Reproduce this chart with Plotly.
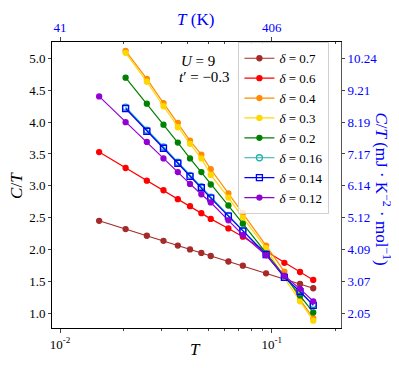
import plotly.graph_objects as go

# ---- data ----
T_ALL = [0.0153, 0.0204, 0.0257, 0.0308, 0.036, 0.0411, 0.0465, 0.0515,
         0.0624, 0.073, 0.094, 0.1147, 0.136, 0.157]

ct_d070 = [2.45, 2.32, 2.215, 2.135, 2.06, 2.0, 1.945, 1.897, 1.81, 1.745, 1.625, None, 1.46, 1.39]
ct_d060 = [3.53, 3.28, 3.08, 2.93, 2.79, 2.68, 2.57, 2.48, 2.33, 2.20, 1.97, 1.79, 1.645, 1.52]
ct_d040 = [None, 5.12, 4.68, 4.30, 3.99, 3.71, 3.49, 3.26, 2.88, 2.57, 2.06, 1.65, 1.21, 0.92]
ct_d030 = [None, 5.09, 4.635, 4.25, 3.92, 3.66, 3.43, 3.17, 2.815, 2.50, 2.02, 1.55, 1.185, 0.88]
ct_d020 = [None, 4.70, 4.29, 3.96, 3.68, 3.43, 3.215, 3.02, 2.69, 2.405, 1.94, 1.585, 1.277, 1.01]
ct_d016 = [None, 4.235, 3.875, 3.61, 3.37, 3.165, 2.985, 2.82, 2.535, 2.30, 1.925, 1.565, 1.33, 1.135]
ct_d014 = [None, 4.215, 3.857, 3.59, 3.354, 3.149, 2.969, 2.805, 2.523, 2.288, 1.918, 1.56, 1.338, 1.12]
ct_d012 = [4.405, 4.0, 3.69, 3.43, 3.215, 3.03, 2.867, 2.738, 2.457, 2.226, 1.908, 1.585, 1.38, 1.185]

series_labels = ["0.7", "0.6", "0.4", "0.3", "0.2", "0.16", "0.14", "0.12"]
series_values = [ct_d070, ct_d060, ct_d040, ct_d030, ct_d020, ct_d016, ct_d014, ct_d012]

left_ticks = [1.0, 1.5, 2.0, 2.5, 3.0, 3.5, 4.0, 4.5, 5.0]
right_tick_labels = ["2.05", "3.07", "4.09", "5.12", "6.14", "7.17", "8.19", "9.21", "10.24"]
bottom_ticks = [0.01, 0.1]
bottom_tick_labels = ["10<sup>-2</sup>", "10<sup>-1</sup>"]
top_tick_labels = ["41", "406"]
minor_ticks = [0.02, 0.03, 0.04, 0.05, 0.06, 0.07, 0.08, 0.09, 0.2]

# ---- styles ----
colors = ["brown", "red", "darkorange", "gold", "green", "lightseagreen", "blue", "darkviolet"]
symbols = ["circle", "circle", "circle", "circle", "circle", "circle-open", "square-open", "circle"]
msizes = [5, 5, 5, 5, 5, 6, 6, 5]
FONT = "Liberation Serif"

fig = go.Figure()
for i, (lab, vals, c, s, ms) in enumerate(zip(series_labels, series_values, colors, symbols, msizes)):
    fig.add_trace(go.Scatter(
        x=T_ALL, y=vals, mode="lines+markers", connectgaps=True,
        name=f"<i>δ</i> = {lab}",
        xaxis="x" if i == 0 else "x2", yaxis="y" if i == 0 else "y2",
        line=dict(color=c, width=1.2),
        marker=dict(color=c, symbol=s, size=ms, line=dict(color=c, width=1.3)),
    ))

xr = [-2.038, -0.673]
yr = [0.765, 5.26]

def ann(text, x, y, size, color="black", angle=0):
    return dict(text=text, x=x, y=y, xref="paper", yref="paper", showarrow=False,
                xanchor="center", yanchor="middle", textangle=angle,
                font=dict(family=FONT, size=size, color=color))

fig.update_layout(
    width=391, height=360,
    margin=dict(l=44, r=58, t=28, b=40),
    paper_bgcolor="white", plot_bgcolor="white",
    font=dict(family=FONT, size=13, color="black"),
    showlegend=True,
    legend=dict(x=0.645, y=0.999, xanchor="left", yanchor="top",
                bgcolor="rgba(255,255,255,0.8)", bordercolor="#d0d0d0", borderwidth=1,
                font=dict(family=FONT, size=13), tracegroupgap=0, itemwidth=30),
    xaxis=dict(type="log", range=xr, tickmode="array", tickvals=bottom_ticks,
               ticktext=bottom_tick_labels, ticks="outside", ticklen=4,
               showline=True, linecolor="black", linewidth=1,
               showgrid=False, zeroline=False,
               minor=dict(tickmode="array", tickvals=minor_ticks, ticks="outside", ticklen=2,
                          showgrid=False)),
    xaxis2=dict(type="log", range=xr, overlaying="x", side="top", anchor="y2",
                tickmode="array", tickvals=bottom_ticks, ticktext=top_tick_labels,
                ticks="outside", ticklen=4, tickfont=dict(color="blue", size=13),
                showline=True, linecolor="black", linewidth=1, showgrid=False,
                zeroline=False,
                minor=dict(tickmode="array", tickvals=minor_ticks, ticks="inside", ticklen=2,
                           showgrid=False)),
    yaxis=dict(range=yr, tickmode="array", tickvals=left_ticks,
               ticktext=[f"{v:.1f}" for v in left_ticks], ticks="outside", ticklen=3,
               showline=True, linecolor="black", linewidth=1, showgrid=False, zeroline=False),
    yaxis2=dict(range=yr, overlaying="y", side="right", anchor="x2",
                tickmode="array", tickvals=left_ticks, ticktext=right_tick_labels,
                ticks="outside", ticklen=3, tickfont=dict(color="blue", size=13),
                showline=True, linecolor="#555555", linewidth=1, showgrid=False,
                zeroline=False),
    annotations=[
        ann("<i>T</i> (K)", 0.495, 1.079, 17, "blue"),
        ann("<i>T</i>", 0.498, -0.075, 17),
        ann("<i>C</i>/<i>T</i>", -0.125, 0.5, 17, angle=-90),
        ann("<i>C</i>/<i>T</i> (mJ · K<sup>−2</sup> · mol<sup>−1</sup>)", 1.145, 0.485, 17, "blue", 90),
        ann("<i>U</i> = 9", 0.505, 0.932, 15),
        ann("<i>t</i>′ = −0.3", 0.526, 0.877, 15),
    ],
)

fig.write_html("out.html")
